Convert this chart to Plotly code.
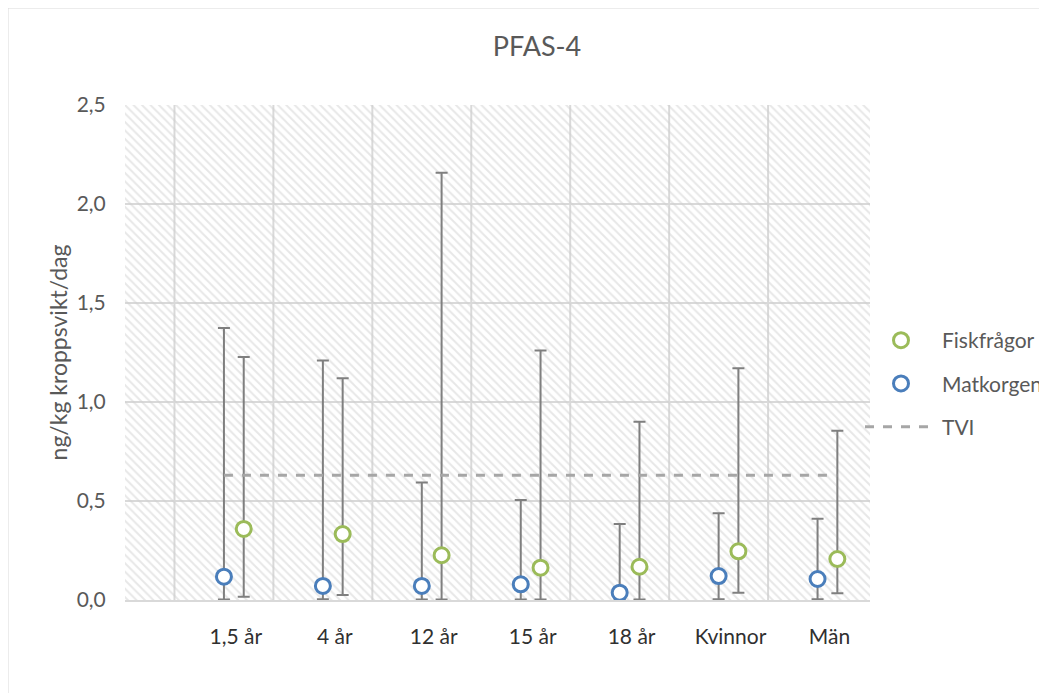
import plotly.graph_objects as go
import numpy as np

categories = ["1,5 år", "4 år", "12 år", "15 år", "18 år", "Kvinnor", "Män"]

matkorgen = [0.118, 0.071, 0.071, 0.079, 0.037, 0.121, 0.106]
matkorgen_low = [0.003, 0.004, 0.003, 0.003, 0.002, 0.004, 0.004]
matkorgen_high = [1.374, 1.21, 0.593, 0.505, 0.384, 0.438, 0.41]

fisk = [0.359, 0.333, 0.226, 0.163, 0.168, 0.246, 0.207]
fisk_low = [0.017, 0.025, 0.002, 0.002, 0.002, 0.037, 0.034]
fisk_high = [1.227, 1.12, 2.158, 1.26, 0.90, 1.17, 0.855]

tvi = 0.63

idx = np.arange(1, len(categories) + 1)
x_mat = idx + 0.5
x_fisk = idx + 0.7
x_range = [0.5, 8.03]

font_fam = "Lato, 'Open Sans', sans-serif"
grey_txt = "#595959"
err_col = "#7f7f7f"

fig = go.Figure()

# hatched plot background
fig.add_trace(go.Bar(
    x=[(x_range[0] + x_range[1]) / 2], y=[2.5], width=[x_range[1] - x_range[0]],
    marker=dict(color="rgba(0,0,0,0)", line=dict(width=0),
                pattern=dict(shape="\\", fgcolor="#d0d0d0", bgcolor="rgba(0,0,0,0)",
                             size=6, solidity=0.32)),
    showlegend=False, hoverinfo="skip"))

def err(vals, lo, hi):
    return dict(type="data", symmetric=False,
                array=[h - v for v, h in zip(vals, hi)],
                arrayminus=[v - l for v, l in zip(vals, lo)],
                color=err_col, thickness=2, width=6)

fig.add_trace(go.Scatter(
    x=x_mat, y=matkorgen, mode="markers", name="Matkorgen",
    error_y=err(matkorgen, matkorgen_low, matkorgen_high),
    marker=dict(symbol="circle", size=15, color="white",
                line=dict(color="#4a7ebb", width=3)),
    legendgroup="b", legendrank=2))

fig.add_trace(go.Scatter(
    x=x_fisk, y=fisk, mode="markers", name="Fiskfrågor",
    error_y=err(fisk, fisk_low, fisk_high),
    marker=dict(symbol="circle", size=15, color="white",
                line=dict(color="#9bbb59", width=3)),
    legendgroup="a", legendrank=1))

fig.add_trace(go.Scatter(
    x=[x_mat[0], x_fisk[-1]], y=[tvi, tvi], mode="lines", name="TVI",
    line=dict(color="#a6a6a6", width=3, dash="dash"),
    legendgroup="c", legendrank=3))

FW, FH = 1039, 685
L, T = 117, 97
W, H = 745, 495

fig.update_layout(
    width=FW, height=FH,
    margin=dict(l=L, r=FW - L - W, t=T, b=FH - T - H, autoexpand=False),
    paper_bgcolor="white", plot_bgcolor="white",
    separators=", ",
    font=dict(family=font_fam, size=20, color=grey_txt),
    title=dict(text="PFAS-4", x=529 / FW, xanchor="center", y=1 - 39 / FH,
               yanchor="middle", font=dict(size=27, color=grey_txt)),
    showlegend=True,
    legend=dict(xref="container", yref="container", x=852 / FW, y=1 - 312 / FH,
                xanchor="left", yanchor="top",
                traceorder="grouped", tracegroupgap=13,
                font=dict(size=21, color=grey_txt), bgcolor="rgba(0,0,0,0)",
                itemwidth=72),
    hovermode=False,
    bargap=0,
    xaxis=dict(range=x_range, tickmode="array", tickvals=idx + 0.62, ticktext=categories,
               showgrid=False, zeroline=False, showline=True, linecolor="#d9d9d9", linewidth=2,
               ticks="outside", ticklen=17, tickcolor="rgba(0,0,0,0)",
               tickfont=dict(size=21, color="#303030")),
    yaxis=dict(range=[0, 2.5], dtick=0.5, tickformat=".1f", showgrid=True,
               gridcolor="#d9d9d9", gridwidth=2, zeroline=False,
               ticks="outside", ticklen=14, tickcolor="rgba(0,0,0,0)",
               tickfont=dict(size=21, color=grey_txt),
               title=dict(text="ng/kg kroppsvikt/dag", standoff=2,
                          font=dict(size=23, color=grey_txt))),
)

# vertical grid lines at category boundaries
for g in idx:
    fig.add_shape(type="line", x0=g, x1=g, y0=0, y1=2.5, xref="x", yref="y",
                  line=dict(color="#d9d9d9", width=2), layer="below")

# outer chart border
fig.add_shape(type="rect", xref="paper", yref="paper",
              x0=(0 - L) / W, x1=(FW + 20 - L) / W, y0=(T + H - FH - 20) / H, y1=(T + H) / H,
              line=dict(color="#d9d9d9", width=1), layer="below")

fig.write_html("out.html")
